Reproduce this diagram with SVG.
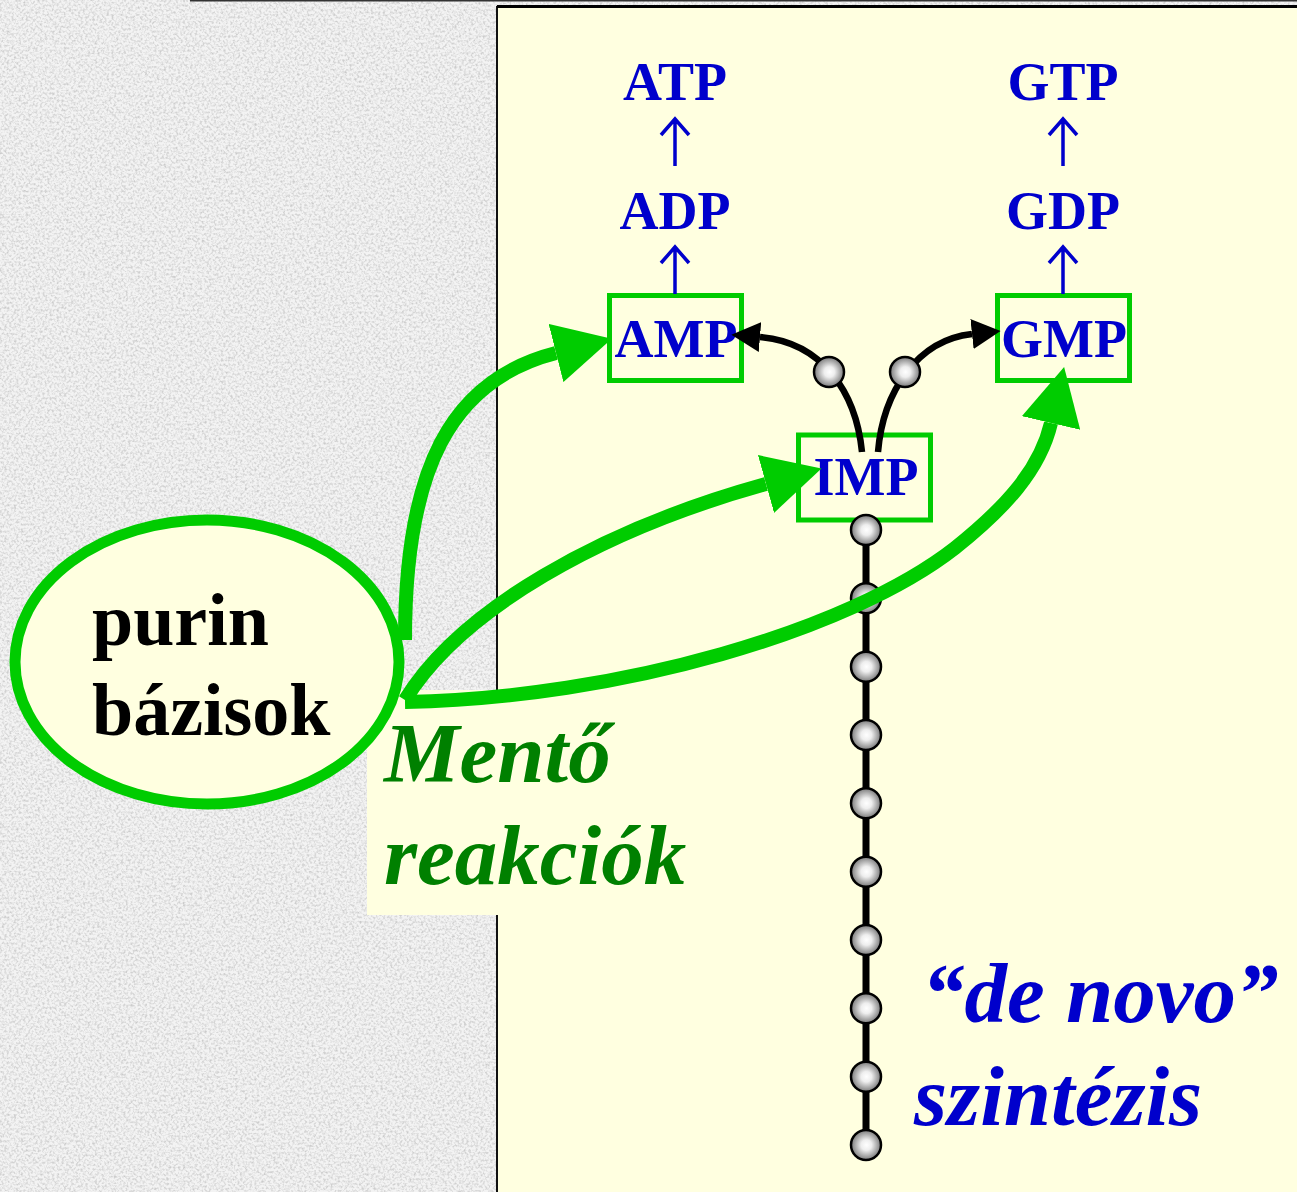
<svg xmlns="http://www.w3.org/2000/svg" width="1297" height="1192" viewBox="0 0 1297 1192">
  <defs>
    <style>
      .mol { font-family: "Liberation Serif", "Times New Roman", serif; font-weight: bold; font-size: 54px; fill: #0000CC; text-anchor: middle; }
      .box { fill: #FFFFE0; stroke: #00CC00; stroke-width: 5; }
      .step { stroke: #0000CC; stroke-width: 3.5; fill: none; stroke-linecap: butt; }
      .salvage { fill: none; stroke: #00CC00; stroke-width: 14; }
      .branch { fill: none; stroke: #000; stroke-width: 6.5; }
      .ball { fill: url(#ballShade); stroke: #000; stroke-width: 2.5; }
      .big { font-family: "Liberation Serif", "Times New Roman", serif; font-weight: bold; }
    </style>
    <radialGradient id="ballShade" cx="50%" cy="50%" r="50%" fx="52%" fy="50%">
      <stop offset="0" stop-color="#ffffff"/>
      <stop offset="0.35" stop-color="#eeeeee"/>
      <stop offset="1" stop-color="#7a7a7a"/>
    </radialGradient>
    <filter id="granite" x="0" y="0" width="100%" height="100%">
      <feTurbulence type="fractalNoise" baseFrequency="0.42" numOctaves="2" seed="7"/>
      <feColorMatrix type="matrix" values="0 0 0 0 0.6  0 0 0 0 0.6  0 0 0 0 0.6  2.4 0 0 0 -1.0"/>
    </filter>
    <marker id="greenHead" markerUnits="userSpaceOnUse" markerWidth="60" markerHeight="60" refX="0" refY="25" orient="auto" viewBox="0 0 50 50">
      <path d="M0,0 L48,25 L0,50 Z" fill="#00CC00"/>
    </marker>
    <marker id="blackHead" markerUnits="userSpaceOnUse" markerWidth="30" markerHeight="30" refX="0" refY="12" orient="auto" viewBox="0 0 24 24">
      <path d="M0,0 L23,12 L0,24 Z" fill="#000"/>
    </marker>
  </defs>

  <!-- textured slide background -->
  <rect x="0" y="0" width="1297" height="1192" fill="#F3F3F3"/>
  <rect x="0" y="0" width="1297" height="1192" filter="url(#granite)"/>
  <line x1="190" y1="0.75" x2="1297" y2="0.75" stroke="#333" stroke-width="1.5"/>

  <!-- light panel -->
  <rect x="497" y="7" width="820" height="1210" fill="#FFFFE0" stroke="#111" stroke-width="2"/>
  <line x1="497" y1="6.5" x2="1297" y2="6.5" stroke="#000" stroke-width="3"/>

  <!-- label background for the salvage caption -->
  <rect x="367" y="690" width="132" height="225" fill="#FFFFE0"/>

  <!-- nucleotide ladders -->
  <g id="atp"><text class="mol" x="675" y="100">ATP</text></g>
  <g id="adp"><text class="mol" x="675" y="229">ADP</text></g>
  <g id="gtp"><text class="mol" x="1063" y="100">GTP</text></g>
  <g id="gdp"><text class="mol" x="1063" y="229">GDP</text></g>

  <g id="amp">
    <rect class="box" x="609.5" y="295.5" width="132" height="85"/>
    <text class="mol" x="676" y="357">AMP</text>
  </g>
  <g id="gmp">
    <rect class="box" x="997.5" y="295.5" width="132" height="85"/>
    <text class="mol" x="1064" y="357">GMP</text>
  </g>
  <g id="imp">
    <rect class="box" x="798.5" y="435" width="132" height="85"/>
    <text class="mol" x="866" y="495">IMP</text>
  </g>

  <g id="purin-bazisok">
    <ellipse cx="207" cy="662" rx="192" ry="142" fill="#FFFFE0" stroke="#00CC00" stroke-width="11"/>
    <text class="big" font-size="74" fill="#000" x="92" y="645">purin</text>
    <text class="big" font-size="74" fill="#000" x="92" y="735">bázisok</text>
  </g>

  <g id="caption-mento">
    <text class="big" font-style="italic" font-size="85" fill="#008000" x="384" y="782">Mentő</text>
    <text class="big" font-style="italic" font-size="85" fill="#008000" x="384" y="884">reakciók</text>
  </g>

  <g id="caption-denovo">
    <text class="big" font-style="italic" font-size="85" fill="#0000CC" x="922" y="1022">“de novo”</text>
    <text class="big" font-style="italic" font-size="85" fill="#0000CC" x="914" y="1125">szintézis</text>
  </g>

  <g id="connectors">
    <!-- phosphorylation steps -->
    <path class="step" d="M675,166 V120 M661,135 L675,119 L689,135"/>
    <path class="step" d="M675,294 V248 M661,263 L675,247 L689,263"/>
    <path class="step" d="M1063,166 V120 M1049,135 L1063,119 L1077,135"/>
    <path class="step" d="M1063,294 V248 M1049,263 L1063,247 L1077,263"/>

    <!-- de novo pathway -->
    <line x1="866" y1="522" x2="866" y2="1145" stroke="#000" stroke-width="7"/>
    <path class="branch" d="M862,452 C856,392 822,342 760,337" marker-end="url(#blackHead)"/>
    <path class="branch" d="M878,452 C883,392 917,340 972,334" marker-end="url(#blackHead)"/>
    <g id="chain-steps">
      <circle class="ball" cx="829" cy="372" r="15"/>
      <circle class="ball" cx="905" cy="372" r="15"/>
      <circle class="ball" cx="866" cy="530" r="15"/>
      <circle class="ball" cx="866" cy="598.3" r="15"/>
      <circle class="ball" cx="866" cy="666.7" r="15"/>
      <circle class="ball" cx="866" cy="735" r="15"/>
      <circle class="ball" cx="866" cy="803.3" r="15"/>
      <circle class="ball" cx="866" cy="871.7" r="15"/>
      <circle class="ball" cx="866" cy="940" r="15"/>
      <circle class="ball" cx="866" cy="1008.3" r="15"/>
      <circle class="ball" cx="866" cy="1076.7" r="15"/>
      <circle class="ball" cx="866" cy="1145" r="15"/>
    </g>

    <!-- salvage reactions -->
    <path class="salvage" d="M405,640 C405,470 450,380 556,353" marker-end="url(#greenHead)"/>
    <path class="salvage" d="M405,700 C460,610 600,530 766,484" marker-end="url(#greenHead)"/>
    <path class="salvage" d="M405,702 C620,698 850,630 955,548 C1005,508 1040,470 1051,423" marker-end="url(#greenHead)"/>
  </g>
</svg>
